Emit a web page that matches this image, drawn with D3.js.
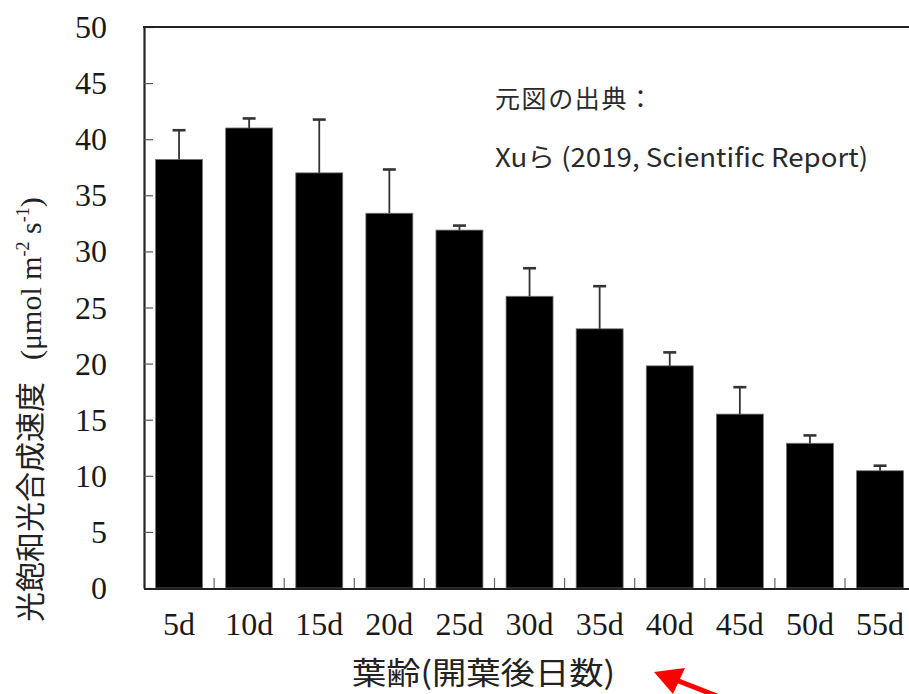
<!DOCTYPE html>
<html>
<head>
<meta charset="utf-8">
<script src="https://cdn.jsdelivr.net/npm/d3@7"></script>
<style>
  html, body { margin: 0; padding: 0; background: #fff; }
  svg { display: block; }
</style>
</head>
<body>
<script>
// Light-saturated photosynthetic rate by leaf age (mean ± SD)
const categories = ["5d", "10d", "15d", "20d", "25d", "30d", "35d", "40d", "45d", "50d", "55d"];
const rates      = [38.2, 41.0, 37.0, 33.4, 31.9, 26.0, 23.1, 19.8, 15.5, 12.9, 10.45];
const errors     = [2.6, 0.85, 4.75, 3.9, 0.4, 2.5, 3.8, 1.2, 2.4, 0.7, 0.45];
const yTicks     = [0, 5, 10, 15, 20, 25, 30, 35, 40, 45, 50];

const W = 909, H = 694;
const x0 = 144, yTop = 27, yBottom = 588, step = 70.1;

const svg = d3.select("body").append("svg")
  .attr("width", W).attr("height", H);

const x = d3.scaleBand()
  .domain(categories)
  .range([x0, x0 + step * categories.length])
  .paddingInner(0.33)
  .paddingOuter(0.165);

const y = d3.scaleLinear().domain([0, 50]).range([yBottom, yTop]);

const serif = "'Liberation Serif', 'Times New Roman', serif";
const cjk = "'Noto Sans CJK JP', 'Noto Sans', sans-serif";

// Bars
svg.append("g").selectAll("rect")
  .data(categories)
  .join("rect")
  .attr("x", d => x(d))
  .attr("width", x.bandwidth())
  .attr("y", (d, i) => y(rates[i]))
  .attr("height", (d, i) => y(0) - y(rates[i]))
  .attr("fill", "#000")
  .attr("stroke", "#777")
  .attr("stroke-width", 0.8);

// Error bars (upper half only)
const eb = svg.append("g").attr("stroke", "#333").attr("stroke-width", 1.8);
eb.selectAll("line.stem")
  .data(categories)
  .join("line")
  .attr("class", "stem")
  .attr("x1", d => x(d) + x.bandwidth() / 2)
  .attr("x2", d => x(d) + x.bandwidth() / 2)
  .attr("y1", (d, i) => y(rates[i]))
  .attr("y2", (d, i) => y(rates[i] + errors[i]));
eb.selectAll("line.cap")
  .data(categories)
  .join("line")
  .attr("class", "cap")
  .attr("stroke-width", 2.6)
  .attr("x1", d => x(d) + x.bandwidth() / 2 - 6.5)
  .attr("x2", d => x(d) + x.bandwidth() / 2 + 6.5)
  .attr("y1", (d, i) => y(rates[i] + errors[i]))
  .attr("y2", (d, i) => y(rates[i] + errors[i]));

// Y axis with inward ticks
const yAxis = svg.append("g")
  .attr("transform", `translate(${x0},0)`)
  .call(d3.axisLeft(y).tickValues(yTicks).tickSize(-9).tickSizeOuter(0).tickPadding(37));
yAxis.select(".domain").attr("stroke", "#222").attr("stroke-width", 2.2);
yAxis.selectAll(".tick line").attr("stroke", "#555").attr("stroke-width", 1.2);
yAxis.selectAll(".tick text")
  .attr("font-family", serif).attr("font-size", 32).attr("fill", "#1a1a1a")
  .attr("dy", "0.33em");

// X axis line, category labels and boundary ticks
const xAxis = svg.append("g")
  .attr("transform", `translate(0,${yBottom})`)
  .call(d3.axisBottom(x).tickSize(0).tickPadding(41));
xAxis.select(".domain").remove();
xAxis.selectAll(".tick text")
  .attr("font-family", serif).attr("font-size", 32).attr("fill", "#1a1a1a")
  .attr("dy", "0.2em");

svg.append("line")
  .attr("x1", x0).attr("x2", W)
  .attr("y1", yBottom + 1).attr("y2", yBottom + 1)
  .attr("stroke", "#222").attr("stroke-width", 2.2);
svg.append("line")
  .attr("x1", x0 - 1).attr("x2", W)
  .attr("y1", yTop).attr("y2", yTop)
  .attr("stroke", "#222").attr("stroke-width", 2.2);

svg.append("g").selectAll("line")
  .data(categories.slice(1))
  .join("line")
  .attr("x1", d => x(d) - x.step() * x.paddingInner() / 2)
  .attr("x2", d => x(d) - x.step() * x.paddingInner() / 2)
  .attr("y1", yBottom)
  .attr("y2", yBottom - 10)
  .attr("stroke", "#666").attr("stroke-width", 1.2);

// Axis titles
const yTitle = svg.append("text")
  .attr("transform", "translate(41,622) rotate(-90)")
  .attr("fill", "#222");
yTitle.append("tspan").attr("font-family", cjk).attr("font-size", 30).text("光飽和光合成速度");
yTitle.append("tspan").attr("font-family", serif).attr("font-size", 30).attr("dx", 22).text("(μmol m");
yTitle.append("tspan").attr("font-family", serif).attr("font-size", 18).attr("dy", -12).text("-2");
yTitle.append("tspan").attr("font-family", serif).attr("font-size", 30).attr("dy", 12).text(" s");
yTitle.append("tspan").attr("font-family", serif).attr("font-size", 18).attr("dy", -12).text("-1");
yTitle.append("tspan").attr("font-family", serif).attr("font-size", 30).attr("dy", 12).text(")");

svg.append("text")
  .attr("x", 352).attr("y", 684)
  .attr("font-family", cjk).attr("font-size", 31).attr("fill", "#222")
  .attr("textLength", 263).attr("lengthAdjust", "spacingAndGlyphs")
  .text("葉齢(開葉後日数)");

// Source note
svg.append("text")
  .attr("x", 495).attr("y", 108)
  .attr("font-family", cjk).attr("font-size", 25).attr("fill", "#2a2a2a")
  .attr("textLength", 158).attr("lengthAdjust", "spacing")
  .text("元図の出典：");
svg.append("text")
  .attr("x", 495).attr("y", 167)
  .attr("font-family", cjk).attr("font-size", 26).attr("fill", "#2a2a2a")
  .attr("textLength", 373).attr("lengthAdjust", "spacingAndGlyphs")
  .text("Xuら (2019, Scientific Report)");

// Red pointer arrow
svg.append("line")
  .attr("x1", 676).attr("y1", 680).attr("x2", 722).attr("y2", 698)
  .attr("stroke", "#ff0000").attr("stroke-width", 5);
svg.append("path")
  .attr("d", "M654,672 L685,668 L673,694 Z")
  .attr("fill", "#ff0000");
</script>
</body>
</html>
